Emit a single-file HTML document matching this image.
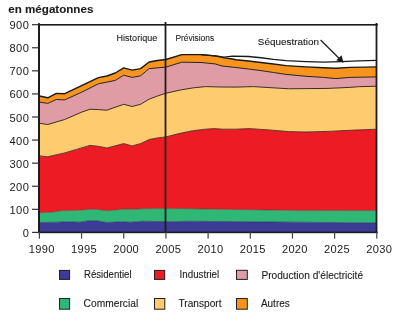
<!DOCTYPE html>
<html><head><meta charset="utf-8"><style>
html,body{margin:0;padding:0;background:#fff;}
body{width:400px;height:320px;position:relative;overflow:hidden;}
svg{position:absolute;left:0;top:0;will-change:transform;}
text{font-family:"Liberation Sans",sans-serif;fill:#1c1a1a;stroke:#1c1a1a;stroke-width:0.1px;}
</style></head><body>
<svg width="400" height="320" viewBox="0 0 400 320">
<polygon points="39.40,222.50 57.50,222.20 68.00,221.75 80.00,222.20 89.00,220.70 98.00,221.00 107.00,222.50 120.50,221.75 131.00,222.20 143.00,221.30 158.00,221.50 173.00,221.75 188.00,221.30 218.00,221.50 298.00,222.20 376.80,223.00 376.80,232.40 39.40,232.40" fill="#3c3c97"/>
<polygon points="39.40,212.70 53.00,212.00 60.50,210.80 80.00,210.20 89.00,209.30 98.00,209.50 107.00,210.80 113.00,210.20 125.00,209.00 134.00,209.30 143.00,208.70 158.00,208.60 188.00,208.70 218.00,209.20 298.00,210.40 376.80,210.50 376.80,223.00 298.00,222.20 218.00,221.50 188.00,221.30 173.00,221.75 158.00,221.50 143.00,221.30 131.00,222.20 120.50,221.75 107.00,222.50 98.00,221.00 89.00,220.70 80.00,222.20 68.00,221.75 57.50,222.20 39.40,222.50" fill="#2fb775"/>
<polygon points="39.40,155.90 47.80,156.80 64.70,152.90 76.50,149.40 90.00,145.40 98.40,146.30 106.90,148.00 123.70,143.60 132.20,145.90 140.60,143.60 149.10,139.60 157.50,137.90 165.90,136.90 179.00,133.60 192.30,130.80 205.40,129.20 214.10,128.60 222.90,129.20 236.00,129.20 249.00,128.60 268.80,129.90 288.50,131.60 306.00,132.00 327.90,131.40 349.80,130.30 376.80,129.20 376.80,210.50 298.00,210.40 218.00,209.20 188.00,208.70 158.00,208.60 143.00,208.70 134.00,209.30 125.00,209.00 113.00,210.20 107.00,210.80 98.00,209.50 89.00,209.30 80.00,210.20 60.50,210.80 53.00,212.00 39.40,212.70" fill="#ed1c24"/>
<polygon points="39.40,123.30 47.80,124.50 64.70,119.50 81.60,112.20 90.00,109.20 98.40,109.60 106.90,110.20 123.70,104.30 132.20,106.50 140.60,104.30 149.10,99.20 157.50,96.00 165.90,93.20 181.30,89.80 194.40,87.70 205.40,86.60 220.70,87.00 236.00,87.10 253.50,86.60 271.00,87.70 288.50,88.75 306.00,88.60 327.90,88.40 349.80,87.40 358.50,86.70 376.80,86.20 376.80,129.20 349.80,130.30 327.90,131.40 306.00,132.00 288.50,131.60 268.80,129.90 249.00,128.60 236.00,129.20 222.90,129.20 214.10,128.60 205.40,129.20 192.30,130.80 179.00,133.60 165.90,136.90 157.50,137.90 149.10,139.60 140.60,143.60 132.20,145.90 123.70,143.60 106.90,148.00 98.40,146.30 90.00,145.40 76.50,149.40 64.70,152.90 47.80,156.80 39.40,155.90" fill="#fecb6e"/>
<polygon points="39.40,102.10 47.80,103.40 56.30,99.50 64.70,99.90 81.60,92.20 98.40,83.80 115.30,80.40 123.70,75.20 132.20,77.40 140.60,75.80 149.10,68.60 165.90,67.10 181.80,62.20 201.00,62.50 215.00,63.90 222.00,66.00 236.00,67.50 248.50,69.00 261.00,70.60 273.50,72.50 286.00,74.40 306.00,76.30 323.50,77.40 335.80,78.60 349.80,77.40 376.80,76.90 376.80,86.20 358.50,86.70 349.80,87.40 327.90,88.40 306.00,88.60 288.50,88.75 271.00,87.70 253.50,86.60 236.00,87.10 220.70,87.00 205.40,86.60 194.40,87.70 181.30,89.80 165.90,93.20 157.50,96.00 149.10,99.20 140.60,104.30 132.20,106.50 123.70,104.30 106.90,110.20 98.40,109.60 90.00,109.20 81.60,112.20 64.70,119.50 47.80,124.50 39.40,123.30" fill="#df9ca5"/>
<polygon points="39.40,96.00 47.80,97.80 56.30,93.40 64.70,93.70 81.60,85.60 98.40,77.60 106.90,76.00 115.30,73.00 123.70,67.90 132.20,70.10 140.60,68.60 149.10,62.00 157.50,60.50 165.90,59.50 181.80,54.60 201.00,54.60 215.00,55.90 220.00,56.70 224.00,57.90 231.00,58.75 236.00,59.75 248.50,61.00 261.00,62.50 273.50,64.00 286.00,65.60 306.00,66.90 323.50,67.80 335.80,68.30 349.80,67.40 376.80,66.90 376.80,76.90 349.80,77.40 335.80,78.60 323.50,77.40 306.00,76.30 286.00,74.40 273.50,72.50 261.00,70.60 248.50,69.00 236.00,67.50 222.00,66.00 215.00,63.90 201.00,62.50 181.80,62.20 165.90,67.10 149.10,68.60 140.60,75.80 132.20,77.40 123.70,75.20 115.30,80.40 98.40,83.80 81.60,92.20 64.70,99.90 56.30,99.50 47.80,103.40 39.40,102.10" fill="#f7941d"/>
<polyline points="39.40,222.50 57.50,222.20 68.00,221.75 80.00,222.20 89.00,220.70 98.00,221.00 107.00,222.50 120.50,221.75 131.00,222.20 143.00,221.30 158.00,221.50 173.00,221.75 188.00,221.30 218.00,221.50 298.00,222.20 376.80,223.00" fill="none" stroke="#2a2a50" stroke-width="0.6" stroke-linejoin="round"/>
<polyline points="39.40,212.70 53.00,212.00 60.50,210.80 80.00,210.20 89.00,209.30 98.00,209.50 107.00,210.80 113.00,210.20 125.00,209.00 134.00,209.30 143.00,208.70 158.00,208.60 188.00,208.70 218.00,209.20 298.00,210.40 376.80,210.50" fill="none" stroke="#5a3030" stroke-width="0.5" stroke-linejoin="round"/>
<polyline points="39.40,155.90 47.80,156.80 64.70,152.90 76.50,149.40 90.00,145.40 98.40,146.30 106.90,148.00 123.70,143.60 132.20,145.90 140.60,143.60 149.10,139.60 157.50,137.90 165.90,136.90 179.00,133.60 192.30,130.80 205.40,129.20 214.10,128.60 222.90,129.20 236.00,129.20 249.00,128.60 268.80,129.90 288.50,131.60 306.00,132.00 327.90,131.40 349.80,130.30 376.80,129.20" fill="none" stroke="#4a2a20" stroke-width="0.9" stroke-linejoin="round"/>
<polyline points="39.40,123.30 47.80,124.50 64.70,119.50 81.60,112.20 90.00,109.20 98.40,109.60 106.90,110.20 123.70,104.30 132.20,106.50 140.60,104.30 149.10,99.20 157.50,96.00 165.90,93.20 181.30,89.80 194.40,87.70 205.40,86.60 220.70,87.00 236.00,87.10 253.50,86.60 271.00,87.70 288.50,88.75 306.00,88.60 327.90,88.40 349.80,87.40 358.50,86.70 376.80,86.20" fill="none" stroke="#3a2a2a" stroke-width="1.0" stroke-linejoin="round"/>
<polyline points="39.40,102.10 47.80,103.40 56.30,99.50 64.70,99.90 81.60,92.20 98.40,83.80 115.30,80.40 123.70,75.20 132.20,77.40 140.60,75.80 149.10,68.60 165.90,67.10 181.80,62.20 201.00,62.50 215.00,63.90 222.00,66.00 236.00,67.50 248.50,69.00 261.00,70.60 273.50,72.50 286.00,74.40 306.00,76.30 323.50,77.40 335.80,78.60 349.80,77.40 376.80,76.90" fill="none" stroke="#2a2020" stroke-width="1.0" stroke-linejoin="round"/>
<polyline points="39.40,96.00 47.80,97.80 56.30,93.40 64.70,93.70 81.60,85.60 98.40,77.60 106.90,76.00 115.30,73.00 123.70,67.90 132.20,70.10 140.60,68.60 149.10,62.00 157.50,60.50 165.90,59.50 181.80,54.60 201.00,54.60 215.00,55.90 220.00,56.70 224.00,57.90 231.00,58.75 236.00,59.75 248.50,61.00 261.00,62.50 273.50,64.00 286.00,65.60 306.00,66.90 323.50,67.80 335.80,68.30 349.80,67.40 376.80,66.90" fill="none" stroke="#1a1a1a" stroke-width="1.4" stroke-linejoin="round"/>
<polyline points="201.00,54.60 215.00,55.90 220.00,56.70 224.00,57.20 232.50,56.10 248.50,56.50 261.00,57.75 273.50,59.40 286.00,60.60 306.00,61.60 323.50,62.20 341.00,61.60 358.50,60.80 376.80,60.40" fill="none" stroke="#1a1a1a" stroke-width="1.3" stroke-linejoin="round"/>
<rect x="38.0" y="23.2" width="2" height="210" fill="#1c1c1c"/>
<rect x="38.4" y="24" width="339.4" height="1.6" fill="#1c1c1c"/>
<rect x="375.6" y="23" width="1.8" height="210" fill="#1c1c1c"/>
<rect x="38.4" y="231.6" width="339.4" height="1.6" fill="#1c1c1c"/>
<rect x="164.6" y="22" width="1.8" height="211" fill="#1c1c1c"/>
<rect x="32" y="231.80" width="7" height="1.2" fill="#333"/>
<rect x="32" y="208.72" width="7" height="1.2" fill="#333"/>
<rect x="32" y="185.64" width="7" height="1.2" fill="#333"/>
<rect x="32" y="162.56" width="7" height="1.2" fill="#333"/>
<rect x="32" y="139.48" width="7" height="1.2" fill="#333"/>
<rect x="32" y="116.40" width="7" height="1.2" fill="#333"/>
<rect x="32" y="93.32" width="7" height="1.2" fill="#333"/>
<rect x="32" y="70.24" width="7" height="1.2" fill="#333"/>
<rect x="32" y="47.16" width="7" height="1.2" fill="#333"/>
<rect x="32" y="24.08" width="7" height="1.2" fill="#333"/>
<rect x="38.80" y="232" width="1.2" height="6.6" fill="#444"/>
<rect x="80.97" y="232" width="1.2" height="6.6" fill="#444"/>
<rect x="123.15" y="232" width="1.2" height="6.6" fill="#444"/>
<rect x="165.32" y="232" width="1.2" height="6.6" fill="#444"/>
<rect x="207.50" y="232" width="1.2" height="6.6" fill="#444"/>
<rect x="249.68" y="232" width="1.2" height="6.6" fill="#444"/>
<rect x="291.85" y="232" width="1.2" height="6.6" fill="#444"/>
<rect x="334.02" y="232" width="1.2" height="6.6" fill="#444"/>
<rect x="376.20" y="232" width="1.2" height="6.6" fill="#444"/>
<line x1="320.6" y1="40" x2="340" y2="59.2" stroke="#1a1a1a" stroke-width="1.2"/>
<polygon points="343.6,62.8 336.3,60.3 341.5,55.2" fill="#1a1a1a"/>
<rect x="59.50" y="270.40" width="10.10" height="9.00" fill="#3c3c97" stroke="#231f20" stroke-width="1"/><rect x="154.50" y="270.40" width="10.20" height="9.00" fill="#ed1c24" stroke="#231f20" stroke-width="1"/><rect x="236.50" y="270.30" width="10.80" height="9.10" fill="#df9ca5" stroke="#231f20" stroke-width="1"/><rect x="59.50" y="298.50" width="10.10" height="10.70" fill="#2fb775" stroke="#231f20" stroke-width="1"/><rect x="154.50" y="298.50" width="10.30" height="10.70" fill="#fecb6e" stroke="#231f20" stroke-width="1"/><rect x="236.50" y="298.50" width="10.80" height="10.70" fill="#f7941d" stroke="#231f20" stroke-width="1"/>
<text transform="translate(8.30,12.80) scale(1.0000,1)" font-size="11.6" font-weight="bold" text-anchor="start">en mégatonnes</text><text transform="translate(29.40,236.90) scale(1.0000,1)" font-size="11.1" font-weight="normal" text-anchor="end" letter-spacing="0.5" style="stroke-width:0px">0</text><text transform="translate(29.40,213.82) scale(1.0000,1)" font-size="11.1" font-weight="normal" text-anchor="end" letter-spacing="0.5" style="stroke-width:0px">100</text><text transform="translate(29.40,190.74) scale(1.0000,1)" font-size="11.1" font-weight="normal" text-anchor="end" letter-spacing="0.5" style="stroke-width:0px">200</text><text transform="translate(29.40,167.66) scale(1.0000,1)" font-size="11.1" font-weight="normal" text-anchor="end" letter-spacing="0.5" style="stroke-width:0px">300</text><text transform="translate(29.40,144.58) scale(1.0000,1)" font-size="11.1" font-weight="normal" text-anchor="end" letter-spacing="0.5" style="stroke-width:0px">400</text><text transform="translate(29.40,121.50) scale(1.0000,1)" font-size="11.1" font-weight="normal" text-anchor="end" letter-spacing="0.5" style="stroke-width:0px">500</text><text transform="translate(29.40,98.42) scale(1.0000,1)" font-size="11.1" font-weight="normal" text-anchor="end" letter-spacing="0.5" style="stroke-width:0px">600</text><text transform="translate(29.40,75.34) scale(1.0000,1)" font-size="11.1" font-weight="normal" text-anchor="end" letter-spacing="0.5" style="stroke-width:0px">700</text><text transform="translate(29.40,52.26) scale(1.0000,1)" font-size="11.1" font-weight="normal" text-anchor="end" letter-spacing="0.5" style="stroke-width:0px">800</text><text transform="translate(29.40,29.18) scale(1.0000,1)" font-size="11.1" font-weight="normal" text-anchor="end" letter-spacing="0.5" style="stroke-width:0px">900</text><text transform="translate(41.80,252.50) scale(1.0000,1)" font-size="11.1" font-weight="normal" text-anchor="middle" letter-spacing="0.3" style="stroke-width:0px">1990</text><text transform="translate(83.97,252.50) scale(1.0000,1)" font-size="11.1" font-weight="normal" text-anchor="middle" letter-spacing="0.3" style="stroke-width:0px">1995</text><text transform="translate(126.15,252.50) scale(1.0000,1)" font-size="11.1" font-weight="normal" text-anchor="middle" letter-spacing="0.3" style="stroke-width:0px">2000</text><text transform="translate(168.32,252.50) scale(1.0000,1)" font-size="11.1" font-weight="normal" text-anchor="middle" letter-spacing="0.3" style="stroke-width:0px">2005</text><text transform="translate(210.50,252.50) scale(1.0000,1)" font-size="11.1" font-weight="normal" text-anchor="middle" letter-spacing="0.3" style="stroke-width:0px">2010</text><text transform="translate(252.68,252.50) scale(1.0000,1)" font-size="11.1" font-weight="normal" text-anchor="middle" letter-spacing="0.3" style="stroke-width:0px">2015</text><text transform="translate(294.85,252.50) scale(1.0000,1)" font-size="11.1" font-weight="normal" text-anchor="middle" letter-spacing="0.3" style="stroke-width:0px">2020</text><text transform="translate(337.02,252.50) scale(1.0000,1)" font-size="11.1" font-weight="normal" text-anchor="middle" letter-spacing="0.3" style="stroke-width:0px">2025</text><text transform="translate(379.20,252.50) scale(1.0000,1)" font-size="11.1" font-weight="normal" text-anchor="middle" letter-spacing="0.3" style="stroke-width:0px">2030</text><text transform="translate(116.60,40.80) scale(0.9300,1)" font-size="9.7" font-weight="normal" text-anchor="start">Historique</text><text transform="translate(175.50,40.80) scale(0.8650,1)" font-size="9.7" font-weight="normal" text-anchor="start">Prévisions</text><text transform="translate(257.80,45.10) scale(1.0450,1)" font-size="9.5" font-weight="normal" text-anchor="start">Séquestration</text><text transform="translate(84.00,278.10) scale(0.9250,1)" font-size="10.4" font-weight="normal" text-anchor="start">Résidentiel</text><text transform="translate(179.60,278.30) scale(0.9400,1)" font-size="10.4" font-weight="normal" text-anchor="start">Industriel</text><text transform="translate(261.40,278.50) scale(0.9750,1)" font-size="10.4" font-weight="normal" text-anchor="start">Production d'électricité</text><text transform="translate(83.60,307.10) scale(0.9850,1)" font-size="10.4" font-weight="normal" text-anchor="start">Commercial</text><text transform="translate(178.50,307.00) scale(0.9750,1)" font-size="10.4" font-weight="normal" text-anchor="start">Transport</text><text transform="translate(260.90,306.90) scale(0.9600,1)" font-size="10.4" font-weight="normal" text-anchor="start">Autres</text>
</svg>
</body></html>
